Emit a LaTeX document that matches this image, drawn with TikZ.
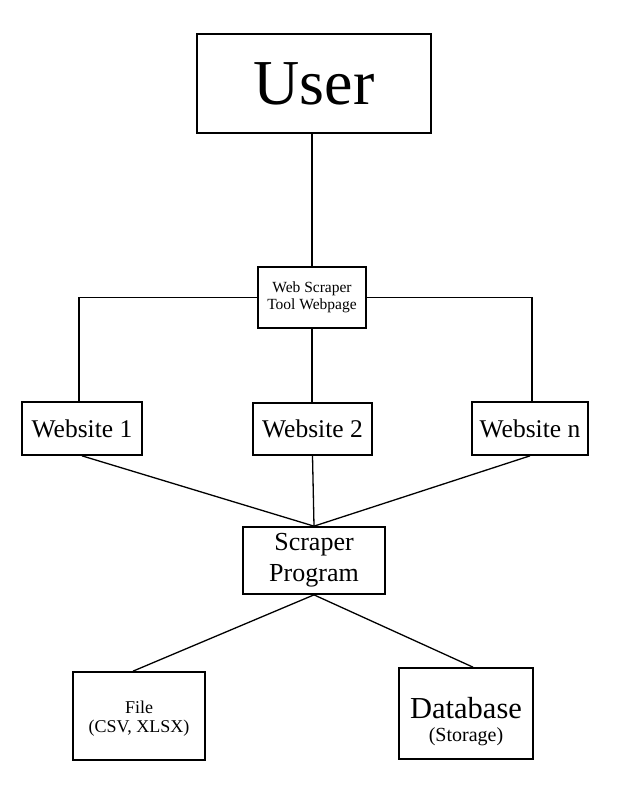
\documentclass[tikz,border=0pt]{standalone}
\usepackage{fontspec}
\setmainfont{Liberation Serif}
\usetikzlibrary{shapes,positioning,calc}

\tikzset{
    box/.style={draw, rectangle, line width=1.7pt, align=center, inner sep=0pt},
    link/.style={line width=1.3pt},
}

\begin{document}
\begin{tikzpicture}[x=1pt, y=-1pt]
    \useasboundingbox (0,0) rectangle (624,799);

    \node[box, minimum width=234pt, minimum height=99pt, font=\fontsize{64}{70}\selectfont] (user) at (314,83.5) {User};
    \node[box, minimum width=108pt, minimum height=61pt, font=\fontsize{15.5}{17.5}\selectfont] (tool) at (312,297.5) {Web Scraper\\Tool Webpage};

    \node[box, minimum width=120pt, minimum height=53pt, font=\fontsize{25.5}{28}\selectfont] (web1) at (82,428.5) {Website 1};
    \node[box, minimum width=119pt, minimum height=52pt, font=\fontsize{25.5}{28}\selectfont] (web2) at (312.5,429) {Website 2};
    \node[box, minimum width=116pt, minimum height=53pt, font=\fontsize{25.5}{28}\selectfont] (webn) at (530,428.5) {Website n};

    \node[box, minimum width=142pt, minimum height=67pt, font=\fontsize{26}{31}\selectfont] (scraper) at (314,560.5) {Scraper\\Program};

    % outputs
    \node[box, minimum width=132pt, minimum height=88pt, font=\fontsize{18}{19}\selectfont] (file) at (139,716) {\rule{0pt}{17pt}File\\(CSV, XLSX)};
    \node[box, minimum width=134pt, minimum height=91pt, font=\fontsize{20}{23}\selectfont] (db) at (466,713.5) {{\fontsize{30.5}{23}\selectfont\rule{0pt}{38pt}Database}\\(Storage)};

    \draw[link] (tool.north) -- (tool.north |- user.south);
    \draw[link] (tool.west) -| ($(web1.north)+(-3,0)$);
    \draw[link] (tool.east) -| ($(webn.north)+(2,0)$);
    \draw[link] (tool.south) -- (tool.south |- web2.north);

    \draw[link] (web1.south) -- (scraper.north);
    \draw[link] (web2.south) -- (scraper.north);
    \draw[link] (webn.south) -- (scraper.north);

    \draw[link] (scraper.south) -- ($(file.north)+(-6,0)$);
    \draw[link] (scraper.south) -- ($(db.north)+(7,0)$);
\end{tikzpicture}
\end{document}
